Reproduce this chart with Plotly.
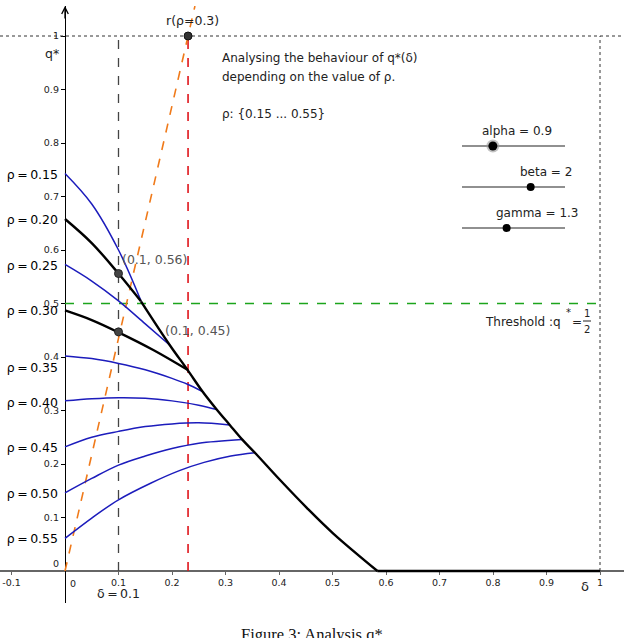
import plotly.graph_objects as go

# ---------------- data ----------------
rho_values = [0.15, 0.20, 0.25, 0.30, 0.35, 0.40, 0.45, 0.50, 0.55]

d_r15 = [0.0, 0.05, 0.1, 0.142]
q_r15 = [0.743, 0.686, 0.600, 0.505]
d_r20 = [0.0, 0.05, 0.1, 0.142]
q_r20 = [0.658, 0.613, 0.556, 0.504]
d_r25 = [0.0, 0.05, 0.1, 0.15, 0.196]
q_r25 = [0.573, 0.542, 0.505, 0.462, 0.422]
d_r30 = [0.0, 0.05, 0.1, 0.165, 0.229]
q_r30 = [0.487, 0.469, 0.446, 0.413, 0.376]
d_r35 = [0.0, 0.05, 0.1, 0.15, 0.2, 0.229, 0.256]
q_r35 = [0.402, 0.397, 0.388, 0.376, 0.360, 0.349, 0.336]
d_r40 = [0.0, 0.05, 0.1, 0.15, 0.2, 0.25, 0.2835]
q_r40 = [0.318, 0.322, 0.324, 0.323, 0.318, 0.310, 0.302]
d_r45 = [0.0, 0.05, 0.1, 0.15, 0.2, 0.25, 0.308]
q_r45 = [0.232, 0.250, 0.261, 0.270, 0.275, 0.277, 0.273]
d_r50 = [0.0, 0.05, 0.1, 0.15, 0.2, 0.25, 0.331]
q_r50 = [0.146, 0.173, 0.198, 0.215, 0.229, 0.239, 0.246]
d_r55 = [0.0, 0.05, 0.1, 0.16, 0.215, 0.26, 0.31, 0.355]
q_r55 = [0.061, 0.099, 0.133, 0.164, 0.188, 0.203, 0.215, 0.221]

curves_d = [d_r15, d_r20, d_r25, d_r30, d_r35, d_r40, d_r45, d_r50, d_r55]
curves_q = [q_r15, q_r20, q_r25, q_r30, q_r35, q_r40, q_r45, q_r50, q_r55]
highlighted = [0.20, 0.30]

# envelope (boundary) of q*(delta)
env_d = [0.142, 0.196, 0.229, 0.256, 0.2835, 0.308, 0.331, 0.355, 0.402, 0.452, 0.5015, 0.584]
env_q = [0.504, 0.422, 0.376, 0.337, 0.302, 0.273, 0.246, 0.221, 0.170, 0.118, 0.070, 0.0]
flat_d = [0.584, 1.0]
flat_q = [0.0, 0.0]

# marked points
pt_d = [0.1, 0.1]
pt_q = [0.556, 0.447]
pt_labels = ["(0.1, 0.56)", "(0.1, 0.45)"]

delta_line = 0.1
delta_r = 0.23          # r(rho=0.3) reaches q*=1 here
threshold = 0.5

# sliders
slider_names = ["alpha", "beta", "gamma"]
slider_vals = [0.9, 2, 1.3]
slider_min, slider_max = 0.0, 3.0

x_ticks = [-0.1, 0.1, 0.2, 0.3, 0.4, 0.5, 0.6, 0.7, 0.8, 0.9, 1.0]
x_ticktext = ["-0.1", "0.1", "0.2", "0.3", "0.4", "0.5", "0.6", "0.7", "0.8", "0.9", "1"]
y_ticks = [0.1, 0.2, 0.3, 0.4, 0.5, 0.6, 0.7, 0.8, 0.9, 1.0]
y_ticktext = ["0.1", "0.2", "0.3", "0.4", "0.5", "0.6", "0.7", "0.8", "0.9", "1"]

# ---------------- geometry ----------------
W, H = 624, 638
OX, OY, S = 65, 571, 535          # origin pixel and px per unit
YTOP, YBOT = 6, 603               # y-axis pixel extent
x_range = [(0 - OX) / S, (W - OX) / S]
y_range = [(OY - YBOT) / S, (OY - YTOP) / S]
y_domain = [(H - YBOT) / H, (H - YTOP) / H]

FONT = "DejaVu Sans"
BLUE = "#1c1cbc"

fig = go.Figure()

# guide lines
fig.add_trace(go.Scatter(x=[x_range[0], x_range[1]], y=[1, 1], mode="lines",
                         line=dict(color="#333", width=1, dash="dot"), hoverinfo="skip"))
fig.add_trace(go.Scatter(x=[1, 1], y=[0, 1], mode="lines",
                         line=dict(color="#333", width=1, dash="dot"), hoverinfo="skip"))
fig.add_trace(go.Scatter(x=[0, 1], y=[threshold, threshold], mode="lines",
                         line=dict(color="#1ca51c", width=1.6, dash="dash"), hoverinfo="skip"))
fig.add_trace(go.Scatter(x=[delta_line, delta_line], y=[0, 1], mode="lines",
                         line=dict(color="#444", width=1.3, dash="dash"), hoverinfo="skip"))
fig.add_trace(go.Scatter(x=[delta_r, delta_r], y=[0, 1], mode="lines",
                         line=dict(color="#e0151b", width=1.6, dash="dash"), hoverinfo="skip"))
fig.add_trace(go.Scatter(x=[0, delta_r * y_range[1]], y=[0, y_range[1]], mode="lines",
                         line=dict(color="#f07a1a", width=1.6, dash="dash"), hoverinfo="skip"))

# rho curves
for r, d, q in zip(rho_values, curves_d, curves_q):
    hl = r in highlighted
    fig.add_trace(go.Scatter(x=d, y=q, mode="lines", line_shape="spline",
                             line=dict(color="black" if hl else BLUE, width=2.4 if hl else 1.5),
                             hoverinfo="skip"))

# envelope
fig.add_trace(go.Scatter(x=env_d, y=env_q, mode="lines", line_shape="spline",
                         line=dict(color="black", width=2.4), hoverinfo="skip"))
fig.add_trace(go.Scatter(x=flat_d, y=flat_q, mode="lines",
                         line=dict(color="black", width=2.6), hoverinfo="skip"))

# points
fig.add_trace(go.Scatter(x=pt_d, y=pt_q, mode="markers",
                         marker=dict(color="#444", size=8, line=dict(color="#222", width=1)),
                         hoverinfo="skip"))
fig.add_trace(go.Scatter(x=[delta_r], y=[1], mode="markers",
                         marker=dict(color="#333", size=8, line=dict(color="#111", width=1)),
                         hoverinfo="skip"))

# rho labels as a text trace
rho_label_py = [175.7, 221, 267, 312.3, 369, 404, 449, 494.7, 540]
fig.add_trace(go.Scatter(
    x=[-7 / S] * len(rho_values), y=[(OY - py) / S for py in rho_label_py],
    mode="text", text=[f"ρ\u2009=\u2009{r:.2f}" for r in rho_values],
    textposition="middle left", cliponaxis=False,
    textfont=dict(family=FONT, size=12.5, color="black"), hoverinfo="skip"))

# sliders
sl_x0, sl_x1 = (462 - OX) / S, (565 - OX) / S
sl_y = [(OY - 146) / S, (OY - 187) / S, (OY - 228) / S]
sl_label_x = [(517 - OX) / S, (546 - OX) / S, (537 - OX) / S]
annots = []
for i, (name, v) in enumerate(zip(slider_names, slider_vals)):
    fig.add_trace(go.Scatter(x=[sl_x0, sl_x1], y=[sl_y[i], sl_y[i]], mode="lines",
                             line=dict(color="#222", width=1.2), hoverinfo="skip"))
    pos = sl_x0 + (v - slider_min) / (slider_max - slider_min) * (sl_x1 - sl_x0)
    if i == 0:
        fig.add_trace(go.Scatter(x=[pos], y=[sl_y[i]], mode="markers",
                                 marker=dict(color="#999", size=13, opacity=0.6), hoverinfo="skip"))
    fig.add_trace(go.Scatter(x=[pos], y=[sl_y[i]], mode="markers",
                             marker=dict(color="black", size=9 if i == 0 else 8), hoverinfo="skip"))
    annots.append(dict(x=sl_label_x[i], y=sl_y[i] + 15 / S, text=f"{name} = {v}", showarrow=False,
                       font=dict(family=FONT, size=12, color="#222"), xanchor="center", yanchor="middle"))

# point labels
annots.append(dict(x=pt_d[0], y=pt_q[0], text=pt_labels[0], showarrow=False, xanchor="left",
                   yanchor="middle", xshift=1, yshift=14, font=dict(family=FONT, size=12.5, color="#555")))
annots.append(dict(x=pt_d[1], y=pt_q[1], text=pt_labels[1], showarrow=False, xanchor="left",
                   yanchor="middle", xshift=44, yshift=1, font=dict(family=FONT, size=12.5, color="#555")))
annots.append(dict(x=delta_r, y=1, text="r(ρ=0.3)", showarrow=False, xanchor="center",
                   yanchor="middle", xshift=4, yshift=16, font=dict(family=FONT, size=12.5, color="#222")))

# description text
desc = ["Analysing the behaviour of q*(δ)", "depending on the value of ρ.", "ρ: {0.15 ... 0.55}"]
desc_py = [58, 77, 114]
for t, py in zip(desc, desc_py):
    annots.append(dict(x=(220 - OX) / S, y=(OY - py) / S, text=t, showarrow=False, xanchor="left",
                       yanchor="middle", font=dict(family=FONT, size=12, color="#222")))

# axis titles and zero labels
annots.append(dict(x=(52 - OX) / S, y=(OY - 53) / S, text="q*", showarrow=False,
                   font=dict(family=FONT, size=12.5, color="#222")))
annots.append(dict(x=(585 - OX) / S, y=(OY - 586) / S, text="δ", showarrow=False,
                   font=dict(family=FONT, size=13, color="#222")))
annots.append(dict(x=delta_line, y=(OY - 593) / S, text="δ\u2009=\u20090.1", showarrow=False,
                   font=dict(family=FONT, size=12.5, color="#222")))
annots.append(dict(x=(73 - OX) / S, y=(OY - 583) / S, text="0", showarrow=False,
                   font=dict(family=FONT, size=9.5, color="#222")))
annots.append(dict(x=(56 - OX) / S, y=(OY - 563) / S, text="0", showarrow=False,
                   font=dict(family=FONT, size=9.5, color="#222")))

# threshold label
annots.append(dict(x=(563 - OX) / S, y=(OY - 322) / S, text="Threshold :q", showarrow=False,
                   xanchor="right", yanchor="middle", font=dict(family=FONT, size=12, color="#222")))
annots.append(dict(x=(568 - OX) / S, y=(OY - 312) / S, text="*", showarrow=False,
                   font=dict(family=FONT, size=10, color="#222")))
annots.append(dict(x=(577 - OX) / S, y=(OY - 322) / S, text="=", showarrow=False,
                   font=dict(family=FONT, size=12, color="#222")))
annots.append(dict(x=(587 - OX) / S, y=(OY - 313) / S, text="1", showarrow=False,
                   font=dict(family=FONT, size=10, color="#222")))
annots.append(dict(x=(587 - OX) / S, y=(OY - 329) / S, text="2", showarrow=False,
                   font=dict(family=FONT, size=10, color="#222")))

# y-axis arrow
annots.append(dict(x=0, y=y_range[1], ax=0, ay=14, text="",
                   showarrow=True, arrowhead=5, arrowsize=1, arrowwidth=1.3, arrowcolor="black"))

# caption
annots.append(dict(x=0.5, y=(H - 634) / H, xref="paper", yref="paper", text="Figure 3: Analysis q*",
                   showarrow=False, yanchor="middle",
                   font=dict(family="Liberation Serif", size=16.5, color="#111")))

fig.update_layout(
    width=W, height=H, margin=dict(l=0, r=0, t=0, b=0, pad=0, autoexpand=False),
    paper_bgcolor="white", plot_bgcolor="white", showlegend=False,
    annotations=annots,
    shapes=[dict(type="line", xref="x", yref="y", x0=(583 - OX) / S, x1=(591 - OX) / S,
                 y0=(OY - 321) / S, y1=(OY - 321) / S, line=dict(color="#222", width=1))],
    xaxis=dict(range=x_range, domain=[0, 1], anchor="free", position=(H - OY) / H, automargin=False,
               showgrid=False, zeroline=False, showline=True, linecolor="#666", linewidth=1.6,
               ticks="outside", ticklen=3, tickcolor="#666", tickvals=x_ticks, ticktext=x_ticktext,
               tickfont=dict(family=FONT, size=9.5, color="#222"), layer="below traces", fixedrange=True),
    yaxis=dict(range=y_range, domain=y_domain, anchor="free", position=OX / W, automargin=False,
               showgrid=False, zeroline=False, showline=True, linecolor="black", linewidth=1.3,
               ticks="outside", ticklen=4, tickcolor="black", tickvals=y_ticks, ticktext=y_ticktext,
               tickfont=dict(family=FONT, size=9.5, color="#222"), layer="below traces", fixedrange=True),
)

fig.write_html("out.html", config={"displayModeBar": False},
               post_script="document.body.style.margin='0';document.body.style.overflow='hidden';")
